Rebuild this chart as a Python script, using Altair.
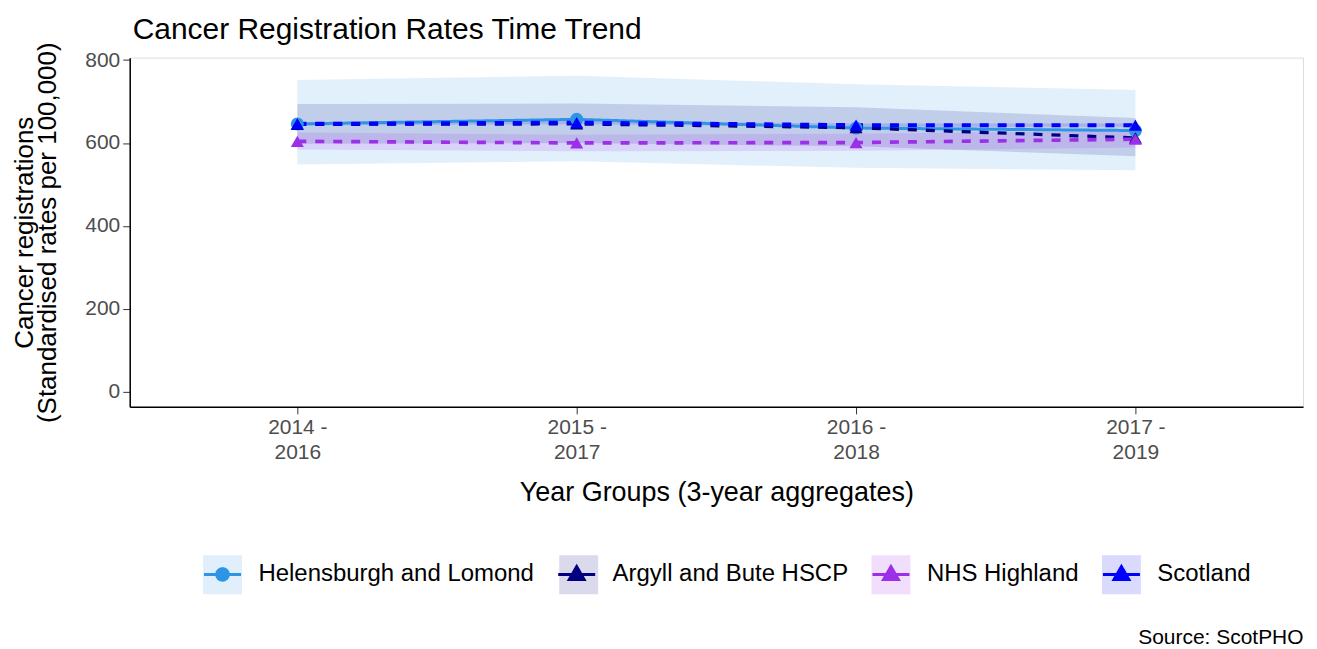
import math
import altair as alt
import pandas as pd

# ---- data ----
periods = ["2014 - 2016", "2015 - 2017", "2016 - 2018", "2017 - 2019"]
series = ["Helensburgh and Lomond", "Argyll and Bute HSCP", "NHS Highland", "Scotland"]

helensburgh_rate = [646, 657, 636, 630]
helensburgh_lower = [548, 556, 540, 534]
helensburgh_upper = [752, 762, 742, 728]

argyll_rate = [645, 646, 637, 612]
argyll_lower = [598, 600, 592, 568]
argyll_upper = [694, 695, 686, 660]

highland_rate = [604, 600, 601, 609]
highland_lower = [584, 580, 581, 589]
highland_upper = [625, 620, 622, 630]

scotland_rate = [646, 649, 643, 643]
scotland_lower = [642, 645, 639, 639]
scotland_upper = [650, 653, 647, 647]

line_colors = ["#2E95E6", "#000080", "#9B30E8", "#0000FF"]
fill_colors = ["#2E95E6", "#000080", "#A020F0", "#0000FF"]

rows = []
for name, r, lo, up in [
    (series[0], helensburgh_rate, helensburgh_lower, helensburgh_upper),
    (series[1], argyll_rate, argyll_lower, argyll_upper),
    (series[2], highland_rate, highland_lower, highland_upper),
    (series[3], scotland_rate, scotland_lower, scotland_upper),
]:
    for p, v, l, u in zip(periods, r, lo, up):
        rows.append({"period": p, "series": name, "band": name, "shp": name,
                     "dash": name, "wid": name, "rate": v, "lower": l, "upper": u})
df = pd.DataFrame(rows)

FONT = "Liberation Sans"
LEGEND_FS = 24
SYM_SIZE = 1521            # 39 px keys
SYM_R = math.sqrt(SYM_SIZE) / 2
LABEL_OFFSET = 15
COL_PAD = 17

# Liberation Sans advance widths (em) -> width of each visible legend label, so the
# key-background legend (no labels) can reserve the same room for each entry
W = {" ": .278, "A": .667, "B": .667, "C": .722, "H": .722, "L": .556, "N": .722,
     "P": .667, "S": .667, "a": .556, "b": .556, "c": .5, "d": .556, "e": .556,
     "g": .556, "h": .556, "i": .222, "l": .222, "m": .833, "n": .556, "o": .556,
     "r": .333, "s": .5, "t": .278, "u": .556, "y": .5}
width_fix = [-3, -7, -5, 0]   # small measured corrections (px)
label_w = {s: sum(W.get(c, .556) for c in s) * LEGEND_FS + fx for s, fx in zip(series, width_fix)}

square = "M-1,-1H1V1H-1Z"
key_paths = {}
for s in series:
    ext = (2 * SYM_R + 3 + LABEL_OFFSET + label_w[s] - SYM_R - 1.5 - 1.5) / SYM_R
    key_paths[s] = f"{square}M{ext:.3f},0L{ext:.3f},0"
key_expr = "".join(f"datum.value === '{s}' ? '{p}' : " for s, p in key_paths.items()) + f"'{square}'"

# legend symbol paths (line stub + marker)
tri_path = "M-0.95,0H0.95M0,-0.40L0.38,0.26L-0.38,0.26Z"
pts = []
for k in range(16):
    a = 2 * math.pi * k / 16
    pts.append(f"{0.3 * math.cos(a):.3f},{0.3 * math.sin(a):.3f}")
circ_path = "M-0.95,0H0.95M" + "L".join(pts) + "Z"
shape_expr = f"datum.value === '{series[0]}' ? '{circ_path}' : '{tri_path}'"
color_expr = "scale('color', datum.value)"

x_enc = alt.X(
    "period:O",
    sort=periods,
    scale=alt.Scale(padding=0.6),
    axis=alt.Axis(
        title="Year Groups (3-year aggregates)",
        labelAngle=0,
        labelExpr="[substring(datum.label, 0, 6), substring(datum.label, 7)]",
        labelLineHeight=25,
        labelFontSize=21,
        labelColor="#4d4d4d",
        labelFont=FONT,
        labelPadding=3,
        tickSize=7,
        tickColor="#333333",
        domainColor="black",
        domainWidth=1.5,
        titleFontSize=27,
        titleFont=FONT,
        titleFontWeight="normal",
        titleColor="black",
        titlePadding=17,
    ),
)

y_scale = alt.Scale(domain=[-37, 806], nice=False, zero=False)
y_axis = alt.Axis(
    title=["Cancer registrations", "(Standardised rates per 100,000)"],
    values=[0, 200, 400, 600, 800],
    grid=False,
    labelFontSize=21,
    labelColor="#4d4d4d",
    labelFont=FONT,
    labelPadding=3,
    tickSize=7,
    tickColor="#333333",
    domainColor="black",
    domainWidth=1.5,
    titleFontSize=26,
    titleFont=FONT,
    titleFontWeight="normal",
    titleColor="black",
    titleLineHeight=23,
    titlePadding=24,
)

LEG_X = 72
LEG_Y = 497

fill_legend = alt.Legend(
    orient="none",
    legendX=LEG_X,
    legendY=LEG_Y,
    direction="horizontal",
    title=None,
    padding=0,
    symbolType=alt.ExprRef(expr=key_expr),
    symbolSize=SYM_SIZE,
    symbolStrokeWidth=3,
    symbolStrokeColor="transparent",
    symbolOpacity=0.14,
    labelFontSize=LEGEND_FS,
    labelFont=FONT,
    labelExpr="''",
    labelLimit=0,
    labelOffset=LABEL_OFFSET,
    columnPadding=COL_PAD,
)

color_legend = alt.Legend(
    orient="none",
    legendX=LEG_X,
    legendY=LEG_Y,
    direction="horizontal",
    title=None,
    padding=0,
    symbolType=alt.ExprRef(expr=shape_expr),
    symbolFillColor=alt.ExprRef(expr=color_expr),
    symbolStrokeColor=alt.ExprRef(expr=color_expr),
    symbolSize=SYM_SIZE,
    symbolStrokeWidth=3,
    symbolOpacity=1,
    symbolDash=[1, 0],
    labelFontSize=LEGEND_FS,
    labelFont=FONT,
    labelColor="black",
    labelLimit=0,
    labelOffset=LABEL_OFFSET,
    columnPadding=COL_PAD,
)

base = alt.Chart(df)

bands = base.mark_area(opacity=0.14).encode(
    x=x_enc,
    y=alt.Y("lower:Q", scale=y_scale, axis=y_axis),
    y2="upper:Q",
    fill=alt.Fill("band:N", sort=series, scale=alt.Scale(range=fill_colors), legend=fill_legend),
)

lines = base.mark_line().encode(
    x=x_enc,
    y=alt.Y("rate:Q", scale=y_scale, axis=y_axis),
    color=alt.Color("series:N", scale=alt.Scale(domain=series, range=line_colors), legend=color_legend),
    strokeDash=alt.StrokeDash(
        "dash:N", sort=series,
        scale=alt.Scale(range=[[1, 0], [9, 9], [9, 9], [9, 9]]),
        legend=None,
    ),
    strokeWidth=alt.StrokeWidth("wid:N", sort=series, scale=alt.Scale(range=[3, 4, 4, 4]), legend=None),
)

points = base.mark_point(filled=True, opacity=1, size=170).encode(
    x=x_enc,
    y=alt.Y("rate:Q", scale=y_scale, axis=y_axis),
    color=alt.Color("series:N", scale=alt.Scale(domain=series, range=line_colors), legend=None),
    shape=alt.Shape(
        "shp:N", sort=series,
        scale=alt.Scale(range=["circle", "triangle-up", "triangle-up", "triangle-up"]),
        legend=None,
    ),
)

main = alt.layer(bands, lines, points).properties(
    width=1176,
    height=350,
    title=alt.TitleParams(
        "Cancer Registration Rates Time Trend",
        anchor="start",
        frame="group",
        fontSize=30,
        font=FONT,
        fontWeight="normal",
        color="black",
        offset=-3,
        dx=3,
    ),
)

chart = alt.vconcat(main).properties(
    title=alt.TitleParams(
        "Source: ScotPHO",
        orient="bottom",
        anchor="end",
        fontSize=21,
        font=FONT,
        fontWeight="normal",
        color="black",
        offset=27,
    ),
    padding={"left": 3, "right": 5, "top": 5, "bottom": 2},
).configure_view(stroke="transparent", strokeWidth=0).configure(font=FONT)

chart.save("out.html", embed_options={"renderer": "svg", "actions": False})
